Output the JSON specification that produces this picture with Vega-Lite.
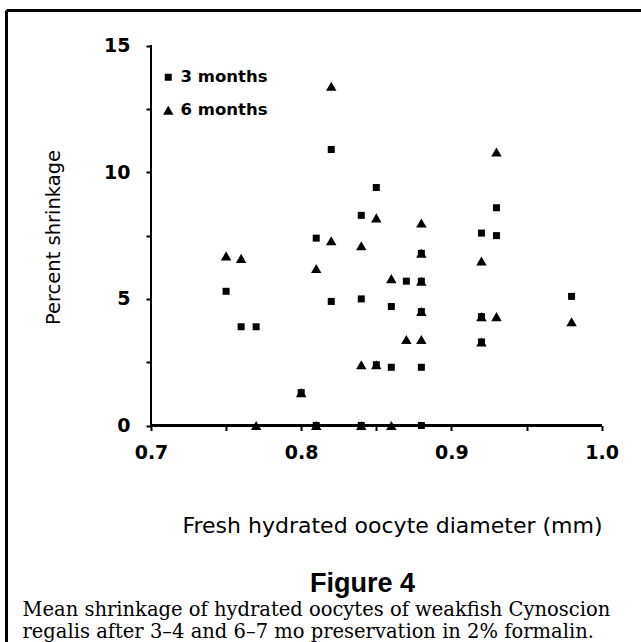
{
  "$schema": "https://vega.github.io/schema/vega-lite/v6.json",
  "width": 635,
  "height": 632,
  "autosize": {"type": "none"},
  "padding": {"left": 6, "top": 10, "right": 0, "bottom": 0},
  "background": "white",
  "config": {"view": {"stroke": null}, "axis": {"grid": false}},
  "data": {
    "values": [
      {"diameter": 0.75, "shrinkage": 5.3, "period": "3 months"},
      {"diameter": 0.76, "shrinkage": 3.9, "period": "3 months"},
      {"diameter": 0.77, "shrinkage": 3.9, "period": "3 months"},
      {"diameter": 0.80, "shrinkage": 1.3, "period": "3 months"},
      {"diameter": 0.81, "shrinkage": 7.4, "period": "3 months"},
      {"diameter": 0.81, "shrinkage": 0, "period": "3 months"},
      {"diameter": 0.82, "shrinkage": 10.9, "period": "3 months"},
      {"diameter": 0.82, "shrinkage": 4.9, "period": "3 months"},
      {"diameter": 0.84, "shrinkage": 8.3, "period": "3 months"},
      {"diameter": 0.84, "shrinkage": 5.0, "period": "3 months"},
      {"diameter": 0.84, "shrinkage": 0, "period": "3 months"},
      {"diameter": 0.85, "shrinkage": 9.4, "period": "3 months"},
      {"diameter": 0.85, "shrinkage": 2.4, "period": "3 months"},
      {"diameter": 0.86, "shrinkage": 4.7, "period": "3 months"},
      {"diameter": 0.86, "shrinkage": 2.3, "period": "3 months"},
      {"diameter": 0.87, "shrinkage": 5.7, "period": "3 months"},
      {"diameter": 0.88, "shrinkage": 6.8, "period": "3 months"},
      {"diameter": 0.88, "shrinkage": 5.7, "period": "3 months"},
      {"diameter": 0.88, "shrinkage": 4.5, "period": "3 months"},
      {"diameter": 0.88, "shrinkage": 2.3, "period": "3 months"},
      {"diameter": 0.88, "shrinkage": 0, "period": "3 months"},
      {"diameter": 0.92, "shrinkage": 7.6, "period": "3 months"},
      {"diameter": 0.92, "shrinkage": 4.3, "period": "3 months"},
      {"diameter": 0.92, "shrinkage": 3.3, "period": "3 months"},
      {"diameter": 0.93, "shrinkage": 8.6, "period": "3 months"},
      {"diameter": 0.93, "shrinkage": 7.5, "period": "3 months"},
      {"diameter": 0.98, "shrinkage": 5.1, "period": "3 months"},
      {"diameter": 0.75, "shrinkage": 6.7, "period": "6 months"},
      {"diameter": 0.76, "shrinkage": 6.6, "period": "6 months"},
      {"diameter": 0.77, "shrinkage": 0, "period": "6 months"},
      {"diameter": 0.80, "shrinkage": 1.3, "period": "6 months"},
      {"diameter": 0.81, "shrinkage": 6.2, "period": "6 months"},
      {"diameter": 0.81, "shrinkage": 0, "period": "6 months"},
      {"diameter": 0.82, "shrinkage": 13.4, "period": "6 months"},
      {"diameter": 0.82, "shrinkage": 7.3, "period": "6 months"},
      {"diameter": 0.84, "shrinkage": 7.1, "period": "6 months"},
      {"diameter": 0.84, "shrinkage": 2.4, "period": "6 months"},
      {"diameter": 0.84, "shrinkage": 0, "period": "6 months"},
      {"diameter": 0.85, "shrinkage": 8.2, "period": "6 months"},
      {"diameter": 0.85, "shrinkage": 2.4, "period": "6 months"},
      {"diameter": 0.86, "shrinkage": 5.8, "period": "6 months"},
      {"diameter": 0.86, "shrinkage": 0, "period": "6 months"},
      {"diameter": 0.87, "shrinkage": 3.4, "period": "6 months"},
      {"diameter": 0.88, "shrinkage": 8.0, "period": "6 months"},
      {"diameter": 0.88, "shrinkage": 6.8, "period": "6 months"},
      {"diameter": 0.88, "shrinkage": 5.7, "period": "6 months"},
      {"diameter": 0.88, "shrinkage": 4.5, "period": "6 months"},
      {"diameter": 0.88, "shrinkage": 3.4, "period": "6 months"},
      {"diameter": 0.92, "shrinkage": 6.5, "period": "6 months"},
      {"diameter": 0.92, "shrinkage": 4.3, "period": "6 months"},
      {"diameter": 0.92, "shrinkage": 3.3, "period": "6 months"},
      {"diameter": 0.93, "shrinkage": 10.8, "period": "6 months"},
      {"diameter": 0.93, "shrinkage": 4.3, "period": "6 months"},
      {"diameter": 0.98, "shrinkage": 4.1, "period": "6 months"}
    ]
  },
  "resolve": {"axis": {"x": "independent", "y": "independent"}},
  "layer": [
    {
      "mark": {"type": "point", "filled": true, "color": "black", "opacity": 1, "strokeWidth": 0},
      "encoding": {
        "x": {
          "field": "diameter", "type": "quantitative",
          "scale": {"domain": [0.60346, 1.02623], "nice": false, "zero": false},
          "axis": {
            "orient": "bottom", "offset": -216.5,
            "values": [0.7, 0.75, 0.8, 0.85, 0.9, 0.95, 1.0],
            "labelExpr": "abs(datum.value*10 - round(datum.value*10)) < 0.001 ? format(datum.value, '.1f') : ''",
            "domain": false, "grid": false,
            "ticks": true, "tickSize": 5, "tickWidth": 2, "tickColor": "black",
            "labelFont": "DejaVu Sans", "labelFontWeight": "bold", "labelFontSize": 19, "labelColor": "black",
            "labelPadding": 13, "labelFlush": false, "labelOverlap": false,
            "title": "Fresh hydrated oocyte diameter (mm)",
            "titleX": 386, "titleY": 99.5, "titleAlign": "center", "titleBaseline": "middle",
            "titleFont": "DejaVu Sans", "titleFontSize": 22, "titleFontWeight": "normal", "titleColor": "black"
          }
        },
        "y": {
          "field": "shrinkage", "type": "quantitative",
          "scale": {"domain": [-8.55, 16.41], "nice": false, "zero": false},
          "axis": {
            "orient": "left", "offset": -145,
            "values": [0, 2.5, 5, 7.5, 10, 12.5, 15],
            "labelExpr": "datum.value % 5 == 0 ? format(datum.value, 'd') : ''",
            "domain": false, "grid": false,
            "ticks": true, "tickSize": 5, "tickWidth": 2, "tickColor": "black",
            "labelFont": "DejaVu Sans", "labelFontWeight": "bold", "labelFontSize": 19, "labelColor": "black",
            "labelPadding": 16, "labelOverlap": false,
            "title": "Percent shrinkage",
            "titleX": -98, "titleY": 227, "titleAngle": -90, "titleAlign": "center", "titleBaseline": "middle",
            "titleFont": "DejaVu Sans", "titleFontSize": 19.5, "titleFontWeight": "normal", "titleColor": "black"
          }
        },
        "shape": {
          "field": "period", "type": "nominal",
          "scale": {"domain": ["3 months", "6 months"], "range": ["square", "triangle-up"]},
          "legend": {
            "title": null, "orient": "none", "legendX": 154, "legendY": 59,
            "labelFont": "DejaVu Sans", "labelFontWeight": "bold", "labelFontSize": 16.5, "labelColor": "black",
            "labelOffset": 4, "rowPadding": 16, "padding": 0,
            "symbolFillColor": "black", "symbolStrokeWidth": 0, "symbolOpacity": 1
          }
        },
        "size": {
          "field": "period", "type": "nominal",
          "scale": {"domain": ["3 months", "6 months"], "range": [49, 110]},
          "legend": {
            "title": null, "orient": "none", "legendX": 154, "legendY": 59,
            "labelFont": "DejaVu Sans", "labelFontWeight": "bold", "labelFontSize": 16.5, "labelColor": "black",
            "labelOffset": 4, "rowPadding": 16, "padding": 0,
            "symbolFillColor": "black", "symbolStrokeWidth": 0, "symbolOpacity": 1
          }
        }
      }
    },
    {
      "mark": {"type": "rule", "color": "black", "strokeWidth": 2},
      "encoding": {
        "x": {
          "datum": 0.7, "type": "quantitative",
          "scale": {"domain": [0.60346, 1.02623], "nice": false, "zero": false},
          "axis": {
            "orient": "top", "offset": 0,
            "domain": true, "domainWidth": 3, "domainColor": "black",
            "ticks": false, "labels": false, "grid": false,
            "title": "Figure 4",
            "titleX": 356, "titleY": 581, "titleAngle": 0, "titleAlign": "center", "titleBaseline": "alphabetic",
            "titleFont": "Liberation Sans", "titleFontSize": 27, "titleFontWeight": "bold", "titleColor": "black"
          }
        },
        "x2": {"datum": 1.0},
        "y": {
          "datum": 0, "type": "quantitative",
          "scale": {"domain": [-8.55, 16.41], "nice": false, "zero": false},
          "axis": {
            "orient": "left", "offset": 0,
            "domain": true, "domainWidth": 3, "domainColor": "black",
            "ticks": false, "labels": false, "grid": false,
            "title": ["Mean shrinkage of hydrated oocytes of weakfish Cynoscion", "regalis after 3–4 and 6–7 mo preservation in 2% formalin."],
            "titleX": 16, "titleY": 605, "titleAngle": 0, "titleAlign": "left", "titleBaseline": "alphabetic",
            "titleFont": "DejaVu Serif", "titleFontSize": 19.5, "titleFontWeight": "normal", "titleColor": "black",
            "titleLineHeight": 22, "titleLimit": 1000
          }
        }
      }
    },
    {
      "mark": {"type": "rule", "color": "black", "strokeWidth": 2},
      "encoding": {
        "x": {"datum": 0.7, "type": "quantitative", "axis": null},
        "y": {"datum": 0, "type": "quantitative", "axis": null},
        "y2": {"datum": 15}
      }
    }
  ]
}
